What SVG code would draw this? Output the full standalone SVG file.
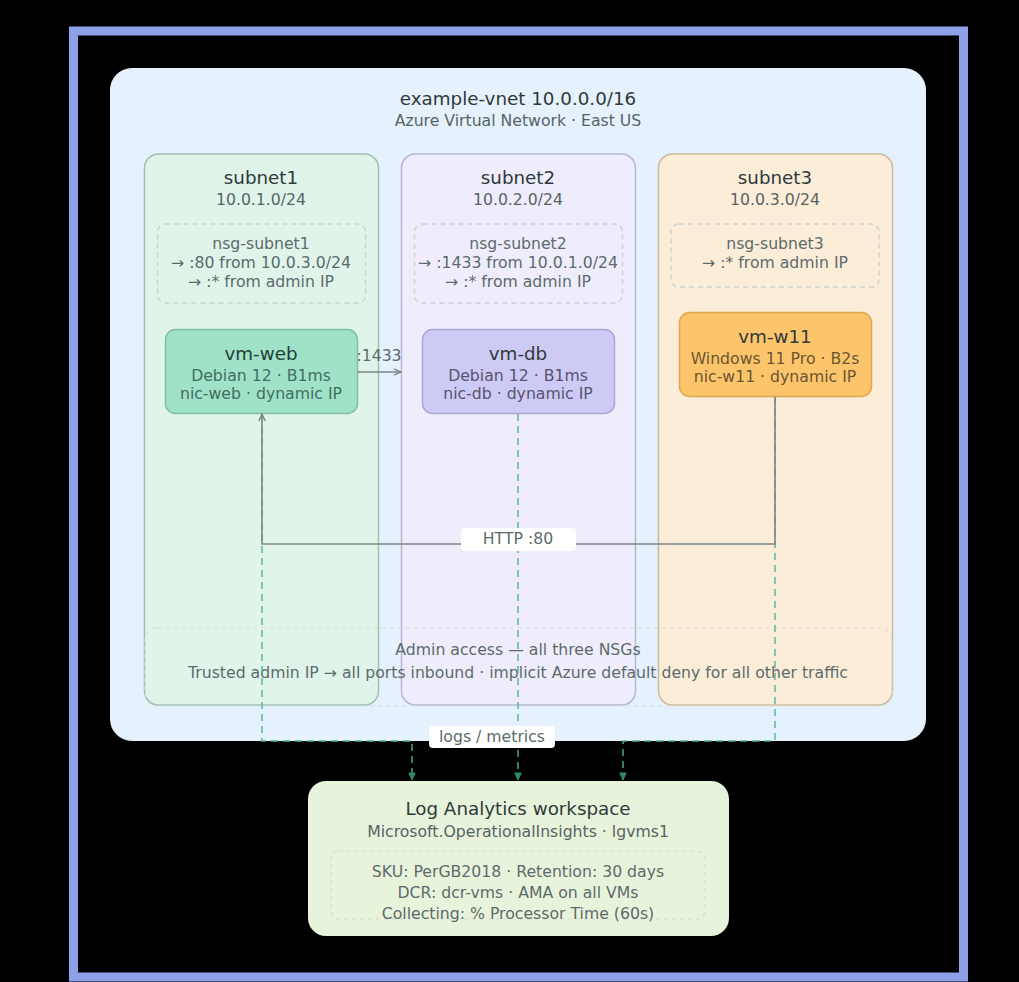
<svg xmlns="http://www.w3.org/2000/svg" width="1019" height="982" viewBox="0 0 1019 982">
<style>
text{font-family:"DejaVu Sans",sans-serif;text-anchor:middle}
.t{font-size:18.300px;fill:#2f3a3a}
.s{font-size:15.700px;fill:#566464}
.n{font-size:15.700px;fill:#5c6b6b}
.sub{stroke-width:1.5}
.nsg{fill:none;stroke:#ccd4d1;stroke-width:1.5;stroke-dasharray:5 4}
.vm{stroke-width:1.5}
.log{fill:none;stroke:#4fb39a;stroke-width:1.4;stroke-dasharray:7 5}
.sol{fill:none;stroke:#7d8685;stroke-width:1.6}
</style>
<defs>
<marker id="a" markerWidth="9" markerHeight="9" refX="8" refY="4" orient="auto" markerUnits="userSpaceOnUse"><path d="M1 0.8L8 4L1 7.2" fill="none" stroke="#7d8685" stroke-width="1.4"/></marker>
<marker id="g" markerWidth="9" markerHeight="9" refX="8" refY="4" orient="auto" markerUnits="userSpaceOnUse"><path d="M1 0.8L8 4L1 7.2Z" fill="#2f8a72" stroke="#2f8a72" stroke-width="1"/></marker>
</defs>
<rect width="1019" height="982" fill="#000"/>
<rect id="frame" x="73.500" y="31" width="890" height="946" fill="#000" stroke="#8ea1e8" stroke-width="9"/>
<g id="vnet">
<rect x="110" y="68" width="816" height="673" rx="22" fill="#e5f1fd"/>
<text class="t" x="518" y="105">example-vnet 10.0.0.0/16</text>
<text class="s" x="518" y="126">Azure Virtual Network · East US</text>
</g>
<g id="subnet1">
<rect class="sub" x="144.500" y="154" width="234" height="551" rx="14" fill="#e0f4ea" stroke="#9fc0b2"/>
<text class="t" x="261" y="184">subnet1</text>
<text class="s" x="261" y="205">10.0.1.0/24</text>
<rect class="nsg" x="157.500" y="224" width="208" height="79" rx="8"/>
<text class="n" x="261" y="249">nsg-subnet1</text>
<text class="n" x="261" y="268">→ :80 from 10.0.3.0/24</text>
<text class="n" x="261" y="287">→ :* from admin IP</text>
</g>
<g id="subnet2">
<rect class="sub" x="401.500" y="154" width="234" height="551" rx="14" fill="#efedfb" stroke="#b8b6d6"/>
<text class="t" x="518" y="184">subnet2</text>
<text class="s" x="518" y="205">10.0.2.0/24</text>
<rect class="nsg" x="414.500" y="224" width="208" height="79" rx="8"/>
<text class="n" x="518" y="249">nsg-subnet2</text>
<text class="n" x="518" y="268">→ :1433 from 10.0.1.0/24</text>
<text class="n" x="518" y="287">→ :* from admin IP</text>
</g>
<g id="subnet3">
<rect class="sub" x="658.500" y="154" width="234" height="551" rx="14" fill="#fcedd9" stroke="#cdb99c"/>
<text class="t" x="775" y="184">subnet3</text>
<text class="s" x="775" y="205">10.0.3.0/24</text>
<rect class="nsg" x="671" y="224" width="208" height="63" rx="8"/>
<text class="n" x="775" y="249">nsg-subnet3</text>
<text class="n" x="775" y="268">→ :* from admin IP</text>
</g>
<g id="admin">
<rect x="145" y="628" width="747" height="78" rx="12" fill="none" stroke="#d6dedc" stroke-width="1.2" stroke-dasharray="4 4"/>
<text class="n" x="518" y="655">Admin access — all three NSGs</text>
<text class="n" x="518" y="678">Trusted admin IP → all ports inbound · implicit Azure default deny for all other traffic</text>
</g>
<g id="vm-web">
<rect class="vm" x="165.500" y="329.500" width="192" height="84" rx="10" fill="#a0e2c8" stroke="#7fbfa7"/>
<text class="t" x="261" y="360" style="fill:#1f3f38">vm-web</text>
<text class="n" x="261" y="381" style="fill:#3f6e62">Debian 12 · B1ms</text>
<text class="n" x="261" y="399" style="fill:#3f6e62">nic-web · dynamic IP</text>
</g>
<g id="vm-db">
<rect class="vm" x="422.500" y="329.500" width="192" height="84" rx="10" fill="#cdcaf5" stroke="#aaa7d6"/>
<text class="t" x="518" y="360">vm-db</text>
<text class="n" x="518" y="381" style="fill:#55556f">Debian 12 · B1ms</text>
<text class="n" x="518" y="399" style="fill:#55556f">nic-db · dynamic IP</text>
</g>
<g id="vm-w11">
<rect class="vm" x="679.500" y="312.500" width="192" height="84" rx="10" fill="#fcc56c" stroke="#dca950"/>
<text class="t" x="775" y="343">vm-w11</text>
<text class="n" x="775" y="364" style="fill:#6c5630">Windows 11 Pro · B2s</text>
<text class="n" x="775" y="382" style="fill:#6c5630">nic-w11 · dynamic IP</text>
</g>
<g id="law">
<rect x="308" y="781" width="421" height="155" rx="18" fill="#e8f3dc"/>
<text class="t" x="518" y="815">Log Analytics workspace</text>
<text class="s" x="518" y="837">Microsoft.OperationalInsights · lgvms1</text>
<rect x="331" y="851" width="374" height="68" rx="8" fill="none" stroke="#d4dccd" stroke-width="1.2" stroke-dasharray="4 4"/>
<text class="n" x="518" y="877">SKU: PerGB2018 · Retention: 30 days</text>
<text class="n" x="518" y="898">DCR: dcr-vms · AMA on all VMs</text>
<text class="n" x="518" y="919">Collecting: % Processor Time (60s)</text>
</g>
<g id="connectors">
<path class="log" d="M262 414V741H412V780" marker-end="url(#g)"/>
<path class="log" d="M518 414V780" marker-end="url(#g)"/>
<path class="log" d="M775 397V741H623V780" marker-end="url(#g)"/>
<path class="sol" d="M357.500 372H401" marker-end="url(#a)"/>
<path class="sol" d="M775 397V544H262V414" marker-end="url(#a)"/>
<text class="n" x="379" y="361">:1433</text>
<rect x="461" y="528" width="115" height="23" rx="4" fill="#fff"/>
<text class="n" x="518" y="544">HTTP :80</text>
<rect x="429" y="726" width="126" height="22" rx="4" fill="#fff"/>
<text class="n" x="492" y="742">logs / metrics</text>
</g>
</svg>
